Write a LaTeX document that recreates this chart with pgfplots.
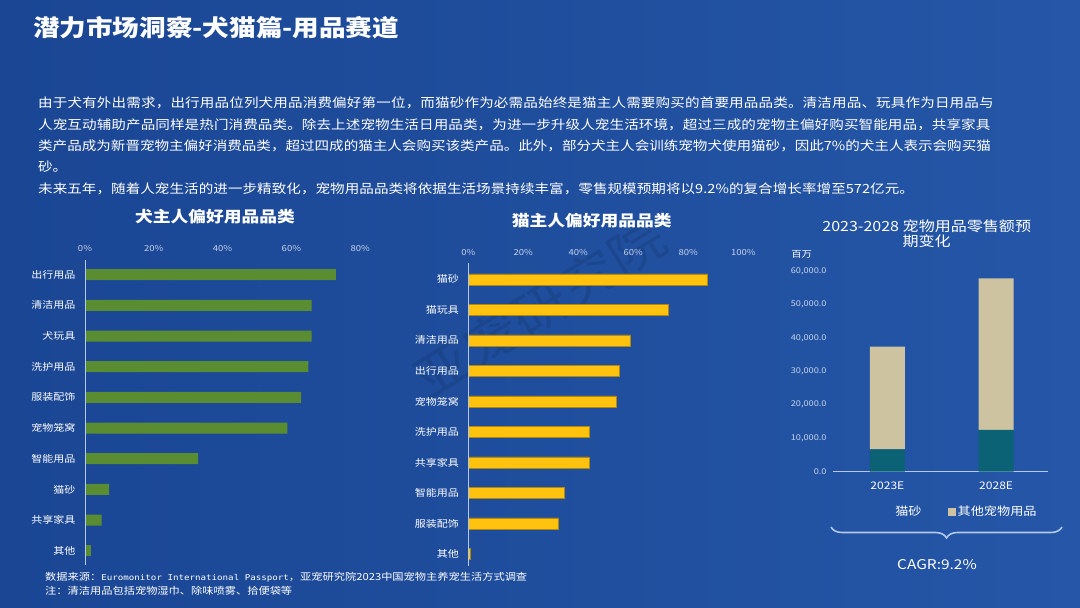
\documentclass[border=0pt]{standalone}
\usepackage{pgfplots}
\pgfplotsset{compat=1.18}
\usepackage{fontspec}
\setmainfont{Noto Sans CJK SC}[FakeStretch=1.15]
\newfontfamily\monof{DejaVu Sans Mono}[FakeStretch=1.15]
\usetikzlibrary{decorations.pathreplacing}
\definecolor{bgA}{HTML}{1A4694}
\definecolor{bgB}{HTML}{2556A7}
\definecolor{dogg}{HTML}{5A8C32}
\definecolor{caty}{HTML}{FFC20E}
\definecolor{tealc}{HTML}{0A6274}
\definecolor{beige}{HTML}{CDC3A0}
\definecolor{tickc}{HTML}{C8D4EA}
\definecolor{axisc}{HTML}{B4C8EA}
\newcommand{\fs}[1]{\fontsize{#1}{#1}\selectfont}
\begin{document}
\begin{tikzpicture}[x=1bp,y=1bp]
\useasboundingbox (0,0) rectangle (1080,608);
\shade[left color=bgA, right color=bgB] (0,0) rectangle (1080,608);
% title
\node[anchor=west, inner sep=0, text=white, font=\fs{23.2}\bfseries] at (33,580) {潜力市场洞察-犬猫篇-用品赛道};
% paragraph
\begin{scope}[every node/.style={anchor=west, inner sep=0, text=white}]
\node[font=\fs{12.7}\addfontfeatures{LetterSpace=1.2}] at (38,505) {由于犬有外出需求，出行用品位列犬用品消费偏好第一位，而猫砂作为必需品始终是猫主人需要购买的首要用品品类。清洁用品、玩具作为日用品与};
\node[font=\fs{12.7}\addfontfeatures{LetterSpace=0.8}] at (38,483.5) {人宠互动辅助产品同样是热门消费品类。除去上述宠物生活日用品类，为进一步升级人宠生活环境，超过三成的宠物主偏好购买智能用品，共享家具};
\node[font=\fs{12.7}] at (38,462) {类产品成为新晋宠物主偏好消费品类，超过四成的猫主人会购买该类产品。此外，部分犬主人会训练宠物犬使用猫砂，因此7\%的犬主人表示会购买猫};
\node[font=\fs{12.7}] at (38,441) {砂。};
\node[font=\fs{12.7}\addfontfeatures{LetterSpace=0.4}] at (38,419.5) {未来五年，随着人宠生活的进一步精致化，宠物用品品类将依据生活场景持续丰富，零售规模预期将以9.2\%的复合增长率增至572亿元。};
\end{scope}
% watermark
\node[rotate=32, opacity=0.10, text=black, font=\fs{50}] at (540,300) {亚宠研究院};
% chart titles
\node[text=white, font=\fs{15.5}\bfseries] at (215,391.3) {犬主人偏好用品品类};
\node[text=white, font=\fs{15.5}\bfseries] at (591.7,387.3) {猫主人偏好用品品类};
\node[text=white, font=\fs{14}, align=center] at (926.7,374.3) {2023-2028 宠物用品零售额预\\[2bp]期变化};
\node[text=white, font=\fs{9}] at (801.7,354) {百万};
% dog chart
\begin{axis}[
  at={(85bp,348bp)}, anchor=north west, scale only axis,
  width=275.2bp, height=305bp,
  xmin=0, xmax=80, ymin=-0.466, ymax=9.479,
  xbar, bar width=11bp,
  axis line style={draw=none},
  /pgf/number format/assume math mode=true,
  xtick={0,20,40,60,80}, xticklabel pos=upper,
  xticklabel={\pgfmathprintnumber{\tick}\%},
  xticklabel style={font=\fs{8.3}, text=tickc, yshift=5bp},
  ytick={0,1,2,3,4,5,6,7,8,9},
  yticklabels={其他,共享家具,猫砂,智能用品,宠物笼窝,服装配饰,洗护用品,犬玩具,清洁用品,出行用品},
  yticklabel style={font=\fs{9.6}, text=white, xshift=-6bp},
  major tick length=0pt,
  clip=false,
]
\addplot[fill=dogg, draw=none] coordinates {
 (1.7,0) (4.8,1) (7.0,2) (32.9,3) (58.8,4) (62.8,5) (64.9,6) (65.9,7) (65.9,8) (72.9,9)};
\draw[axisc, line width=1bp] (rel axis cs:0,0) -- (rel axis cs:0,1);
\end{axis}
% cat chart
\begin{axis}[
  at={(468.3bp,345bp)}, anchor=north west, scale only axis,
  width=275bp, height=303bp,
  xmin=0, xmax=100, ymin=-0.393, ymax=9.534,
  xbar, bar width=11bp,
  axis line style={draw=none},
  /pgf/number format/assume math mode=true,
  xtick={0,20,40,60,80,100}, xticklabel pos=upper,
  xticklabel={\pgfmathprintnumber{\tick}\%},
  xticklabel style={font=\fs{8.3}, text=tickc, yshift=4bp},
  ytick={0,1,2,3,4,5,6,7,8,9},
  yticklabels={其他,服装配饰,智能用品,共享家具,洗护用品,宠物笼窝,出行用品,清洁用品,猫玩具,猫砂},
  yticklabel style={font=\fs{9.6}, text=white, xshift=-6bp},
  major tick length=0pt,
  clip=false,
]
\addplot[fill=caty, draw=caty!70!black, line width=0.4bp] coordinates {
 (0.7,0) (32.8,1) (34.8,2) (43.8,3) (43.8,4) (53.7,5) (54.9,6) (58.8,7) (72.7,8) (86.9,9)};
\draw[axisc, line width=1bp] (rel axis cs:0,0) -- (rel axis cs:0,1);
\end{axis}
% retail chart
\begin{axis}[
  at={(833bp,136.3bp)}, anchor=south west, scale only axis,
  width=215.3bp, height=200.7bp,
  ybar stacked, bar width=35bp,
  xmin=-0.5, xmax=1.48, ymin=0, ymax=60000,
  axis line style={draw=none},
  /pgf/number format/assume math mode=true,
  xtick={0,1}, xticklabels={2023E,2028E},
  xticklabel style={font=\fs{10.5}, text=white, yshift=-7bp},
  ytick={0,10000,20000,30000,40000,50000,60000}, scaled y ticks=false,
  yticklabel style={font=\fs{8}, text=tickc, xshift=-3bp, /pgf/number format/.cd, fixed, fixed zerofill, precision=1, 1000 sep={,}},
  major tick length=0pt,
  clip=false,
  legend style={at={(0.279,-0.2)}, anchor=west, draw=none, fill=none, legend columns=2,
    inner sep=0pt, font=\fs{11.5}, text=white, /tikz/every even column/.append style={column sep=24bp}},
]
\addplot[fill=tealc, draw=none, legend image code/.code={}] coordinates {(0,6700) (1,12500)};
\addplot[fill=beige, draw=none, legend image code/.code={\fill[beige] (0bp,-4bp) rectangle (8bp,4bp);}] coordinates {(0,30670) (1,45300)};
\legend{猫砂,其他宠物用品}
\draw[axisc, line width=1bp] (rel axis cs:0,0) -- (rel axis cs:1,0);
\end{axis}
% brace and CAGR
\draw[decorate, decoration={brace, amplitude=11bp, mirror}, line width=1.6bp, color=axisc] (831,81) -- (1062,81);
\node[text=white, font=\fs{13.5}] at (937,43) {CAGR:9.2\%};
% footnotes
\node[anchor=west, inner sep=0, text=white, font=\fs{9.8}] at (45,31) {数据来源：{\monof\fs{8}Euromonitor International Passport}，亚宠研究院2023中国宠物主养宠生活方式调查};
\node[anchor=west, inner sep=0, text=white, font=\fs{9.8}] at (45,17) {注：清洁用品包括宠物湿巾、除味喷雾、拾便袋等};
\end{tikzpicture}
\end{document}
